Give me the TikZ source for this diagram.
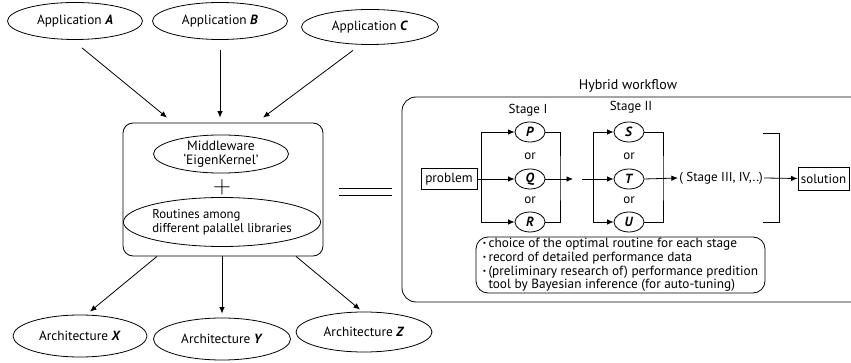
\documentclass[tikz,border=0pt]{standalone}
\usepackage{fontspec}
\setmainfont{PT Sans}
\usetikzlibrary{arrows.meta,shapes.geometric,calc}
\begin{document}
\begin{tikzpicture}[x=1pt,y=-1pt,
  line width=0.8pt,
  every node/.style={font=\fontsize{13.3}{15}\selectfont},
  ell/.style={draw, ellipse, inner sep=0pt, minimum width=135pt, minimum height=37pt},
  sm/.style={draw, ellipse, inner sep=0pt, minimum width=30pt, minimum height=20pt},
  sq/.style={draw, inner sep=1pt},
  arr/.style={-{Latex[length=6.5pt,width=5.5pt]}},
  lbl/.style={inner sep=1pt, font=\fontsize{13}{15}\selectfont}
]
\useasboundingbox (0,0) rectangle (851,363);
\clip (0,0) rectangle (851,363);

% applications
\node[ell] (appA) at (75,21) {Application \textbf{\textit{A}}};
\node[ell] (appB) at (220,21) {Application \textbf{\textit{B}}};
\node[ell, minimum width=137pt, minimum height=35pt] (appC) at (370,27) {Application \textbf{\textit{C}}};

% middle box
\node[draw, rounded corners=10pt, minimum width=200pt, minimum height=133pt] (mid) at (223,189.5) {};
\node[ell, minimum height=38pt, align=center, font=\fontsize{13.5}{14.5}\selectfont] (mw) at (221,154) {Middleware\\‘EigenKernel’};
\node[inner sep=0pt] (plus) at (222,187) {\fontsize{26}{26}\selectfont$+$};
\node[ell, minimum width=169pt, minimum height=49pt, align=left, font=\fontsize{12.8}{14.5}\selectfont] (rt) at (222,222) {Routines among\\different palallel libraries};

% architectures
\node[ell, minimum width=134pt, minimum height=42pt] (archX) at (80,336) {Architecture \textbf{\textit{X}}};
\node[ell, minimum width=137pt, minimum height=42pt] (archY) at (222,339) {Architecture \textbf{\textit{Y}}};
\node[ell, minimum width=136pt, minimum height=40pt] (archZ) at (364,332) {Architecture \textbf{\textit{Z}}};

% arrows in
\draw[arr] ($(appA.south)+(7,8)$) -- ($(mid.north)+(-56,-5)$);
\draw[arr] ($(appB.south)+(0,10)$) -- ($(mid.north)+(-3,-5)$);
\draw[arr] ($(appC.south)+(-17,5.5)$) -- ($(mid.north)+(40,-5)$);
% arrows out
\draw[arr] ($(mid.south)+(-66,0)$) -- ($(archX.north)+(10,-3)$);
\draw[arr] ($(mid.south)+(-1,0)$) -- ($(archY.north)+(0,-4)$);
\draw[arr] ($(mid.south)+(73,0)$) -- ($(archZ.north)+(-4,-2)$);

% equals
\draw (339,188) -- (392,188);
\draw (339,195) -- (392,195);

% workflow box
\draw[rounded corners=14pt] (402,97) rectangle (880,302);
\node[lbl, font=\fontsize{14}{15}\selectfont] (wft) at (628,86) {Hybrid workflow};

\node[sq, minimum width=56pt, minimum height=21pt] (prob) at (449,179) {problem};

\node[lbl] (st1) at (528,110) {Stage I};
\node[sm] (P) at (530,132) {\textbf{\textit{P}}};
\node[lbl] (or1) at (530,156) {or};
\node[sm] (Q) at (530,179) {\textbf{\textit{Q}}};
\node[lbl] (or2) at (530,200) {or};
\node[sm] (R) at (530,222) {\textbf{\textit{R}}};

\node[lbl] (st2) at (631,107) {Stage II};
\node[sm] (S) at (629,132) {\textbf{\textit{S}}};
\node[lbl] (or3) at (629,156) {or};
\node[sm] (T) at (629,179) {\textbf{\textit{T}}};
\node[lbl] (or4) at (629,200) {or};
\node[sm] (U) at (629,222) {\textbf{\textit{U}}};

\coordinate (f1) at (481,179);
\draw (prob.east) -- (f1);
\draw[arr] (f1) -- (Q.west);
\draw[arr] (f1) |- (P.west);
\draw[arr] (f1) |- (R.west);

\coordinate (j1) at (560,179);
\draw (P.east) -| (j1) |- (R.east);
\coordinate (q1) at (573,179);
\draw[arr] (Q.east) -- (q1);

\coordinate (t0) at (582,179);
\coordinate (f2) at (593,179);
\draw[arr] (t0) -- (T.west);
\draw[arr] (f2) |- (S.west);
\draw[arr] (f2) |- (U.west);

\coordinate (j2) at (663,179);
\draw (S.east) -| (j2) |- (U.east);

\node[lbl] (st3) at (721,178) {( Stage III, IV,..)};
\draw[arr] (T.east) -- (st3.west);

\node[sq, minimum width=51pt, minimum height=23pt, font=\fontsize{13}{15}\selectfont] (sol) at (823.5,178.5) {solution};
\draw[arr] (st3.east) -- (sol.west);

\coordinate (b3t) at (763,133);
\coordinate (b3b) at (763,222);
\draw (b3t) -- ++(16,0) |- (b3b);

\node[draw, rounded corners=12pt, align=left, inner sep=0pt, minimum width=289pt, minimum height=56pt,
  font=\fontsize{13.3}{13.7}\selectfont] (bul) at (620.5,265)
  {\textbf{·}\,choice of the optimal routine for each stage\\
   \textbf{·}\,record of detailed performance data\\
   \textbf{·}\,(preliminary research of) performance predition\\
   \phantom{\textbf{·}\,}tool by Bayesian inference (for auto-tuning)};
\end{tikzpicture}
\end{document}
